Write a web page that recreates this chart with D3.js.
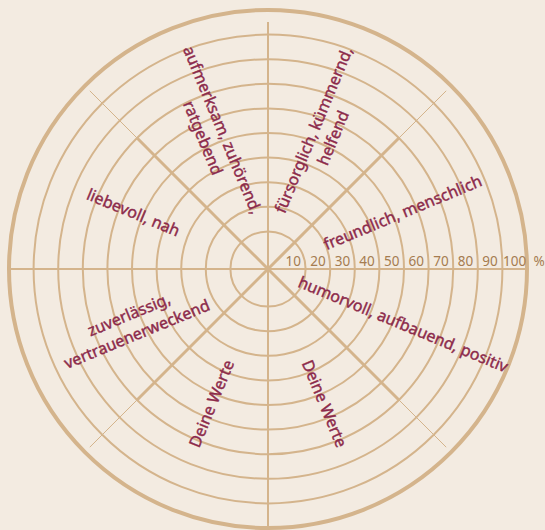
<!DOCTYPE html>
<html>
<head>
<meta charset="utf-8">
<script src="https://cdn.jsdelivr.net/npm/d3@7"></script>
<style>
  body { margin: 0; background: #f3ebe1; }
  svg { display: block; }
</style>
</head>
<body>
<div id="chart"></div>
<script>
// Segment labels, clockwise from the top
var categories = [
    ["fürsorglich, kümmernd,", "helfend"],
    ["freundlich, menschlich"],
    ["humorvoll, aufbauend, positiv"],
    ["Deine Werte"],
    ["Deine Werte"],
    ["zuverlässig,", "vertrauenerweckend"],
    ["liebevoll, nah"],
    ["aufmerksam, zuhörend,", "ratgebend"]
];

// Rating rings in percent
var ringValues = [10, 20, 30, 40, 50, 60, 70, 80, 90, 100];
var tickLabels = ["10", "20", "30", "40", "50", "60", "70", "80", "90", "100"];

var svgWidth = 545;
var svgHeight = 530;
var cx = 268;
var cy = 269;

var lineColor = "#d4b48c";
var textColor = "#8c2a4b";
var tickColor = "#a57c50";

var svg = d3.select("#chart")
    .append("svg")
    .attr("width", svgWidth)
    .attr("height", svgHeight);

svg.append("rect")
    .attr("width", svgWidth)
    .attr("height", svgHeight)
    .attr("fill", "#f3ebe1");

var g = svg.append("g")
    .attr("transform", `translate(${cx}, ${cy})`);

var rScale = d3.scaleLinear()
    .domain([0, 100])
    .range([13, 259]);

var angle = d3.scaleLinear()
    .domain([0, categories.length])
    .range([0, 2 * Math.PI]);

// rings
g.selectAll("circle.ring")
    .data(ringValues)
    .enter()
    .append("circle")
    .attr("class", "ring")
    .attr("r", d => rScale(d))
    .attr("fill", "none")
    .attr("stroke", lineColor)
    .attr("stroke-width", d => d === 100 ? 4 : 2);

// spokes: straight axes are thin, diagonals thick inside and thin outside
var spokes = d3.range(categories.length);
spokes.forEach(function (i) {
    var a = angle(i);
    var diag = i % 2 === 1;
    var dir = [Math.sin(a), -Math.cos(a)];
    if (diag) {
        g.append("line")
            .attr("x1", 0).attr("y1", 0)
            .attr("x2", dir[0] * rScale(70)).attr("y2", dir[1] * rScale(70))
            .attr("stroke", lineColor).attr("stroke-width", 3);
        g.append("line")
            .attr("x1", dir[0] * rScale(70)).attr("y1", dir[1] * rScale(70))
            .attr("x2", dir[0] * 252).attr("y2", dir[1] * 252)
            .attr("stroke", lineColor).attr("stroke-width", 1);
    } else {
        var len = i === 0 ? 247 : 261;
        g.append("line")
            .attr("x1", 0).attr("y1", 0)
            .attr("x2", dir[0] * len).attr("y2", dir[1] * len)
            .attr("stroke", lineColor).attr("stroke-width", 2);
    }
});

// percent tick labels along the right axis
g.selectAll("text.tick")
    .data(ringValues)
    .enter()
    .append("text")
    .attr("class", "tick")
    .attr("x", (d, i) => (rScale(d) + rScale(d - 10)) / 2)
    .attr("y", -3)
    .attr("text-anchor", "middle")
    .attr("fill", tickColor)
    .style("font-family", "'Noto Sans', sans-serif")
    .style("font-size", "13.5px")
    .text((d, i) => tickLabels[i]);

g.append("text")
    .attr("x", rScale(100) + 12)
    .attr("y", -3)
    .attr("text-anchor", "middle")
    .attr("fill", tickColor)
    .style("font-family", "'Noto Sans', sans-serif")
    .style("font-size", "13.5px")
    .text("%");

// segment labels along the bisectors
var labelR = 146;
var lineH = 21;
var labels = g.selectAll("text.cat")
    .data(categories)
    .enter()
    .append("text")
    .attr("class", "cat")
    .attr("text-anchor", "middle")
    .attr("fill", textColor)
    .attr("stroke", textColor)
    .attr("stroke-width", 0.4)
    .style("font-family", "'Noto Sans', sans-serif")
    .style("font-size", "16px")
    .attr("transform", function (d, i) {
        var a = angle(i + 0.5);
        var x = Math.sin(a) * labelR;
        var y = -Math.cos(a) * labelR;
        var deg = a * 180 / Math.PI;
        var rot = deg < 180 ? deg - 90 : deg - 270;
        return `translate(${x}, ${y}) rotate(${rot})`;
    });

labels.selectAll("tspan")
    .data(d => d.map((t, j) => ({ t: t, j: j, n: d.length })))
    .enter()
    .append("tspan")
    .attr("x", 0)
    .attr("y", d => (d.j - (d.n - 1) / 2) * lineH + 5)
    .text(d => d.t);
</script>
</body>
</html>
